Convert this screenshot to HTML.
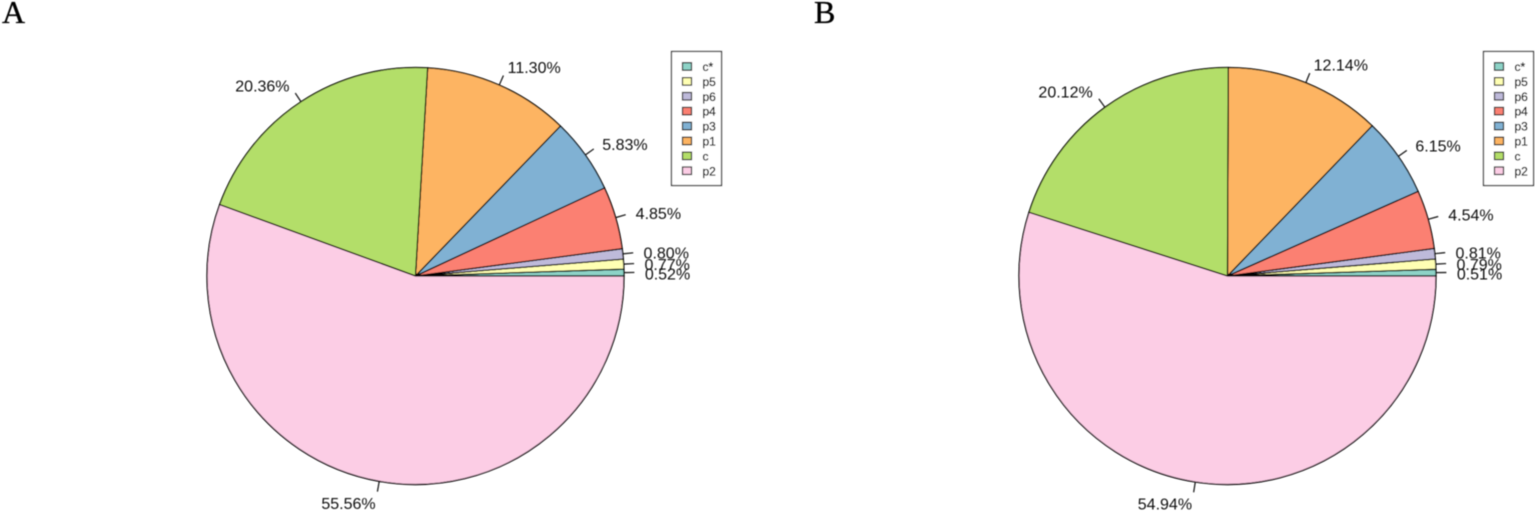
<!DOCTYPE html>
<html lang="en">
<head>
<meta charset="utf-8">
<title>Pie charts A and B</title>
<style>
html,body{margin:0;padding:0;background:#fff;width:1535px;height:511px;overflow:hidden}
svg{display:block}
.lab{font-family:"Liberation Sans",sans-serif;font-size:16px;fill:#111}
.leg{font-family:"Liberation Sans",sans-serif;font-size:12px;fill:#000;stroke:#000;stroke-width:.25px}
.panel{font-family:"Liberation Serif",serif;font-size:32px;fill:#000;stroke:#000;stroke-width:.35px}
</style>
</head>
<body>
<svg id="chart" xmlns="http://www.w3.org/2000/svg" width="1535" height="511" viewBox="0 0 1535 511">
<defs><filter id="soft" x="-2%" y="-2%" width="104%" height="104%"><feGaussianBlur stdDeviation="0.42"/></filter></defs>
<g id="root" filter="url(#soft)"></g>
</svg>
<script>
const categories = ["c*", "p5", "p6", "p4", "p3", "p1", "c", "p2"];
const valuesA = [0.52, 0.77, 0.80, 4.85, 5.83, 11.30, 20.36, 55.56];
const valuesB = [0.51, 0.79, 0.81, 4.54, 6.15, 12.14, 20.12, 54.94];
const sliceColors = ["#8DD3C7", "#FFFFB3", "#BEBADA", "#FB8072", "#80B1D3", "#FDB462", "#B3DE69", "#FCCDE5"];
const panelTitles = ["A", "B"];

const NS = "http://www.w3.org/2000/svg";
const root = document.getElementById("root");

function make(tag, attrs, parent) {
  const el = document.createElementNS(NS, tag);
  for (const k in attrs) el.setAttribute(k, attrs[k]);
  parent.appendChild(el);
  return el;
}

function angleOf(share, total) {
  return share / total * 2 * Math.PI;
}

function drawPie(values, cx, cy, r, legendX, legendY, title, titleX) {
  const group = make("g", {}, root);
  
  

  const heading = make("text", {x: titleX, y: 23, class: "panel"}, group);
  heading.textContent = title;
  
  

  const total = values.reduce((a, b) => a + b, 0);
  let cum = 0;
  values.forEach((v, i) => {
    const a0 = angleOf(cum, total);
    const a1 = angleOf(cum + v, total);
    const mid = (a0 + a1) / 2;
    cum += v;
    const large = a1 - a0 > Math.PI ? 1 : 0;
    const d = "M" + cx + " " + cy +
      " L" + (cx + r * Math.cos(a0)) + " " + (cy - r * Math.sin(a0)) +
      " A" + r + " " + r + " 0 " + large + " 0 " + (cx + r * Math.cos(a1)) + " " + (cy - r * Math.sin(a1)) + " Z";
    const slice = make("path", {d: d, fill: sliceColors[i], stroke: "#000", "stroke-width": 1.3, "stroke-linejoin": "round"}, group);
    
    

    const tick = make("line", {
      x1: cx + r * Math.cos(mid), y1: cy - r * Math.sin(mid),
      x2: cx + 1.05 * r * Math.cos(mid), y2: cy - 1.05 * r * Math.sin(mid),
      stroke: "#111", "stroke-width": 1.2
    }, group);
    
    

    const lx = cx + 1.1 * r * Math.cos(mid);
    const ly = cy - 1.1 * r * Math.sin(mid);
    const label = make("text", {
      x: lx, y: ly + 7,
      class: "lab",
      "text-anchor": Math.cos(mid) < 0 ? "end" : "start"
    }, group);
    label.textContent = v.toFixed(2) + "%";
    
    
  });

  const legend = make("g", {}, group);
  
  
  const box = make("rect", {x: legendX, y: legendY, width: 50, height: 134, fill: "#fff", stroke: "#333", "stroke-width": 1.2}, legend);
  
  
  categories.forEach((name, i) => {
    const rowY = legendY + 15 + i * 14.9;
    const swatch = make("rect", {x: legendX + 11, y: rowY - 3.8, width: 9, height: 7.5, fill: sliceColors[i], stroke: "#222", "stroke-width": 1.2}, legend);
    
    
    const text = make("text", {x: legendX + 31, y: rowY + 4.5, class: "leg"}, legend);
    text.textContent = name;
    
    
  });
}

drawPie(valuesA, 415.5, 276, 208.5, 671.5, 51.5, panelTitles[0], 2);
drawPie(valuesB, 1227.5, 276, 208.5, 1483.5, 51.5, panelTitles[1], 814);
</script>
</body>
</html>
